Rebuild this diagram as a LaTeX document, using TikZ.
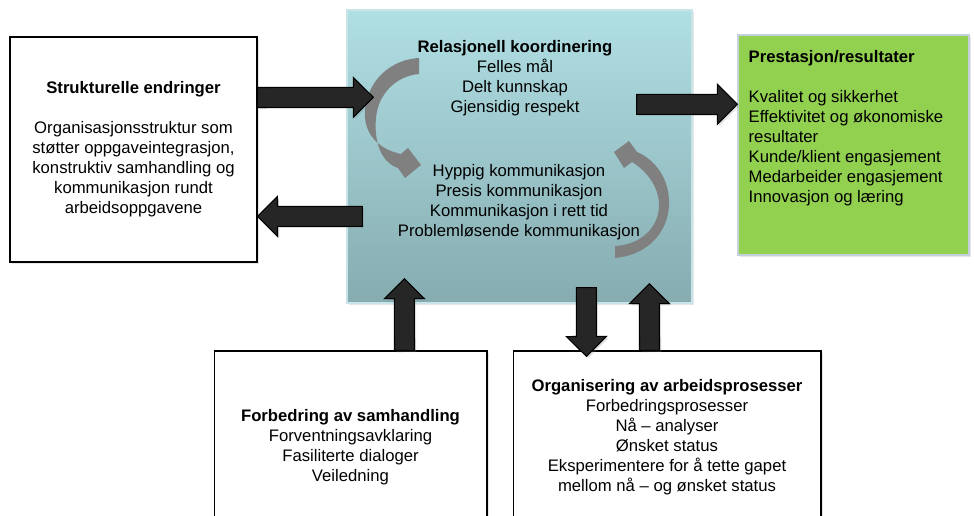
\documentclass[tikz,border=0pt]{standalone}
\usepackage{fontspec}
\setmainfont{Liberation Sans}
\usepackage{tikz}
\usetikzlibrary{positioning, calc, shadows}
\definecolor{relktop}{RGB}{176,223,228}
\definecolor{relkbot}{RGB}{134,172,176}
\definecolor{relkline}{RGB}{200,228,232}
\definecolor{resgreen}{RGB}{146,208,80}
\definecolor{resline}{RGB}{196,208,220}
\definecolor{arrowdark}{RGB}{38,38,38}
\definecolor{cyclegray}{RGB}{128,128,128}
\newcommand{\bashaft}{0.2cm}
\newcommand{\bahead}{0.4cm}
\newcommand{\balen}{0.4cm}
\tikzset{
  txt/.style={font=\fontsize{9.5}{11.4}\selectfont, align=center, inner sep=0pt},
  box/.style={rectangle, draw=black, fill=white, line width=0.6pt,
    txt, drop shadow={opacity=0.2, shadow xshift=1pt, shadow yshift=-1pt}},
  relbox/.style={rectangle, draw=relkline, line width=0.8pt,
    top color=relktop, bottom color=relkbot,
    drop shadow={opacity=0.2, shadow xshift=1pt, shadow yshift=-1pt}},
  greenbox/.style={rectangle, draw=resline, fill=resgreen, line width=0.8pt,
    drop shadow={opacity=0.2, shadow xshift=1pt, shadow yshift=-1pt}},
  blockarrow/.style={draw=black, fill=arrowdark, line width=0.6pt, line join=miter,
    drop shadow={opacity=0.25, shadow xshift=1pt, shadow yshift=-1pt}},
  cyclearrow/.style={fill=cyclegray}
}
% block arrow from #1 to tip #2
\newcommand{\blockarrow}[2]{%
  \coordinate (ba-base) at ($(#2)!\balen!(#1)$);
  \draw[blockarrow] ($(#1)!\bashaft!90:(#2)$) -- ($(ba-base)!\bashaft!90:(#2)$)
    -- ($(ba-base)!\bahead!90:(#2)$) -- (#2)
    -- ($(ba-base)!\bahead!-90:(#2)$) -- ($(ba-base)!\bashaft!-90:(#2)$)
    -- ($(#1)!\bashaft!-90:(#2)$) -- cycle;
}
\begin{document}
\begin{tikzpicture}[x=0.02cm, y=-0.02cm]
  \useasboundingbox (0,0) rectangle (974,516);

  % main boxes
  \node[relbox, minimum width=6.9cm, minimum height=5.86cm] (relk) at (519.5,156.5) {};
  \node[box, minimum width=4.94cm, minimum height=4.5cm] (struct) at (133.5,149.5)
    {\textbf{Strukturelle endringer}\\[0.4cm]Organisasjonsstruktur som\\støtter oppgaveintegrasjon,\\konstruktiv samhandling og\\kommunikasjon rundt\\arbeidsoppgavene};
  \node[greenbox, minimum width=4.62cm, minimum height=4.4cm] (results) at (853.5,145) {};
  \node[box, minimum width=5.46cm, minimum height=3.84cm] (samh) at (350.5,447)
    {\textbf{Forbedring av samhandling}\\Forventningsavklaring\\Fasiliterte dialoger\\Veiledning};
  \node[box, minimum width=6.16cm, minimum height=3.46cm] (orgproc) at (667,437.5)
    {\textbf{Organisering av arbeidsprosesser}\\Forbedringsprosesser\\Nå – analyser\\Ønsket status\\Eksperimentere for å tette gapet\\mellom nå – og ønsket status};

  % cycle inside the relational box
  \fill[cyclearrow] (419,58) .. controls (385,60) and (363,88) .. (365,118)
    .. controls (367,138) and (382,150) .. (401,154)
    -- (408,148) -- (421,165) -- (405,178) -- (398,168)
    .. controls (380,162) and (374,140) .. (376,118)
    .. controls (378,94) and (396,76) .. (419,74) -- cycle;
  \fill[cyclearrow] (615,258) .. controls (648,255) and (668,232) .. (669,205)
    .. controls (670,180) and (656,160) .. (637,152)
    -- (629,141) -- (614,152) -- (624,168) -- (632,162)
    .. controls (648,172) and (659,188) .. (659,205)
    .. controls (659,228) and (640,245) .. (615,246) -- cycle;

  \node[txt] (rktop) at ($(relk.north)+(-4.5,69)$)
    {\textbf{Relasjonell koordinering}\\Felles mål\\Delt kunnskap\\Gjensidig respekt};
  \node[txt] (rkbot) at ($(relk.north)+(-0.5,193)$)
    {Hyppig kommunikasjon\\Presis kommunikasjon\\Kommunikasjon i rett tid\\Problemløsende kommunikasjon};
  \node[txt, align=left, anchor=north west] (restext) at ($(results.north west)+(11,16)$)
    {\textbf{Prestasjon/resultater}\\[0.4cm]Kvalitet og sikkerhet\\Effektivitet og økonomiske\\resultater\\Kunde/klient engasjement\\Medarbeider engasjement\\Innovasjon og læring};

  % block arrows
  \coordinate (a1s) at ($(struct.north east)+(0,61)$);
  \coordinate (a1e) at ($(relk.north west)+(27,88)$);
  \coordinate (a2s) at ($(relk.north west)+(16,207)$);
  \coordinate (a2e) at ($(struct.north east)+(0,180)$);
  \coordinate (a3s) at ($(relk.north east)+(-56,95)$);
  \coordinate (a3e) at ($(results.north west)+(0,70)$);
  \coordinate (a4s) at ($(samh.north west)+(191,0)$);
  \coordinate (a4e) at ($(relk.south west)+(58,-25)$);
  \coordinate (a5s) at ($(relk.south west)+(240,-16)$);
  \coordinate (a5e) at ($(orgproc.north west)+(74,6)$);
  \coordinate (a6s) at ($(orgproc.north west)+(137,0)$);
  \coordinate (a6e) at ($(relk.south west)+(303,-20)$);
  \blockarrow{a1s}{a1e}
  \blockarrow{a2s}{a2e}
  \blockarrow{a3s}{a3e}
  \blockarrow{a4s}{a4e}
  \blockarrow{a5s}{a5e}
  \blockarrow{a6s}{a6e}
\end{tikzpicture}
\end{document}
